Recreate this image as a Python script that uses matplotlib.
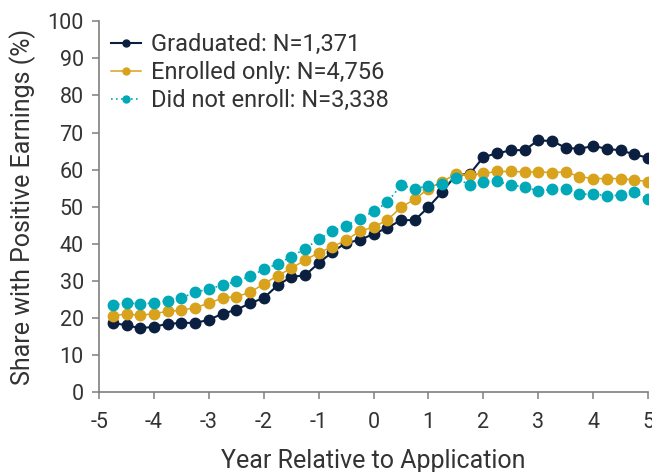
import numpy as np
import matplotlib
matplotlib.use("Agg")
import matplotlib.pyplot as plt

plt.rcParams['font.family'] = ['Roboto', 'DejaVu Sans']
plt.rcParams['axes.unicode_minus'] = False

# quarters relative to application year
years = np.arange(-4.75, 5.01, 0.25)

graduated = [18.6, 18.1, 17.2, 17.7, 18.4, 18.7, 18.7, 19.5, 21.2, 22.2,
             24.0, 25.4, 28.8, 31.1, 31.5, 34.8, 37.8, 40.3, 41.0, 42.7,
             44.3, 46.4, 46.4, 49.9, 54.0, 58.6, 58.8, 63.4, 64.4, 65.2,
             65.3, 67.9, 67.7, 65.9, 65.6, 66.4, 65.6, 65.2, 64.1, 63.2]
enrolled = [20.6, 21.1, 20.7, 21.2, 21.8, 22.1, 22.8, 24.0, 25.4, 25.8,
            26.9, 29.2, 31.4, 33.4, 35.6, 37.6, 39.2, 41.0, 43.4, 44.5,
            46.4, 49.9, 52.0, 54.9, 56.8, 58.8, 58.5, 59.0, 59.5, 59.5,
            59.4, 59.4, 59.2, 59.4, 58.1, 57.6, 57.6, 57.6, 57.2, 56.8]
not_enrolled = [23.5, 24.0, 23.9, 24.0, 24.7, 25.5, 26.9, 27.9, 28.8, 29.9,
                31.2, 33.1, 34.6, 36.5, 38.7, 41.2, 43.4, 44.9, 46.8, 48.8,
                51.2, 55.8, 54.9, 55.6, 56.1, 57.7, 55.9, 56.8, 56.9, 55.8,
                55.4, 54.2, 54.7, 54.9, 53.3, 53.5, 52.9, 53.1, 53.9, 52.0]

labels = ["Graduated: N=1,371", "Enrolled only: N=4,756", "Did not enroll: N=3,338"]
colors = ["#0b2040", "#d8a21c", "#00a8b8"]

fig = plt.figure(figsize=(6.52, 4.72), dpi=100)
ax = fig.add_axes([0.152, 0.169, 0.842, 0.786])

ax.plot(years, graduated, '-o', color=colors[0], lw=1.5, ms=7.5, label=labels[0])
ax.plot(years, enrolled, '-o', color=colors[1], lw=1.1, ms=7.5, label=labels[1])
ax.plot(years, not_enrolled, 'o', ls=(0, (1, 2)), color=colors[2], lw=1.2, ms=7.5, label=labels[2])

ax.set_xlim(-5, 5)
ax.set_ylim(0, 100)
ax.set_xticks(range(-5, 6))
ax.set_yticks(range(0, 101, 10))
for s in ['top', 'right']:
    ax.spines[s].set_visible(False)
for s in ['left', 'bottom']:
    ax.spines[s].set_color('#7f7f7f')
    ax.spines[s].set_linewidth(1.2)
ax.tick_params(colors='#7f7f7f', labelcolor='#333333', labelsize=15.5, length=5, width=1.1, pad=6)
ax.tick_params(axis='x', pad=9)

ax.set_xlabel("Year Relative to Application", fontsize=18, color='#333333', labelpad=12)
ax.set_ylabel("Share with Positive Earnings (%)", fontsize=18, color='#333333', labelpad=8)

leg = ax.legend(loc='upper left', bbox_to_anchor=(0.0, 1.0), frameon=False, fontsize=17,
                handlelength=1.27, handletextpad=0.42, labelspacing=0.22, borderaxespad=0.1)
for t in leg.get_texts():
    t.set_color('#333333')
for h in leg.legend_handles:
    h.set_markersize(5)

fig.savefig("out.png", dpi=100)
